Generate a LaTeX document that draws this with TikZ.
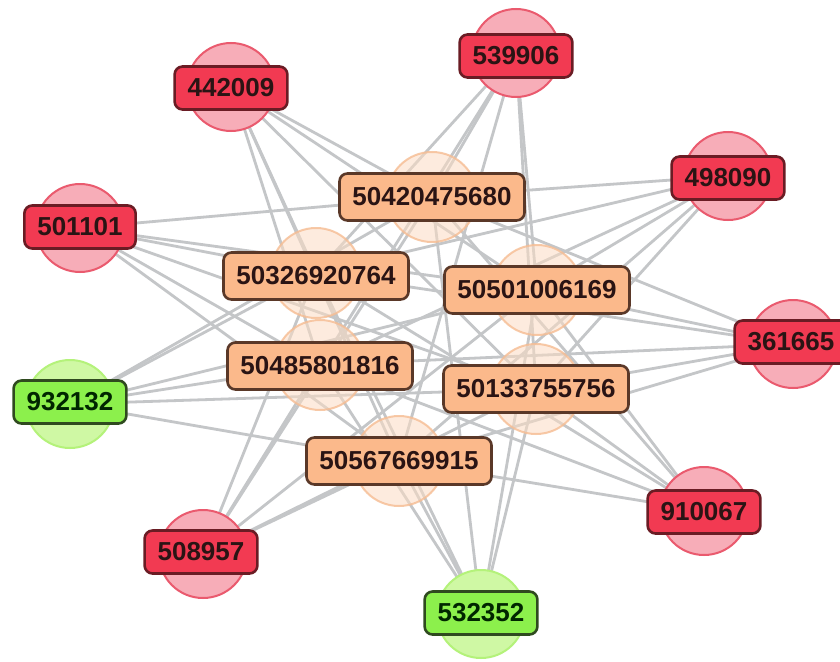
\documentclass[tikz,border=0pt]{standalone}
\usepackage{fontspec}
\setmainfont{Liberation Sans}
\definecolor{edgegray}{HTML}{C4C6C8}
\definecolor{redfill}{HTML}{F23A52}
\definecolor{redline}{HTML}{6A1C24}
\definecolor{redringfill}{HTML}{F7ADB8}
\definecolor{redringline}{HTML}{EA5A6E}
\definecolor{greenfill}{HTML}{8CF04C}
\definecolor{greenline}{HTML}{2F4A1F}
\definecolor{greenringfill}{HTML}{CFF8A4}
\definecolor{greenringline}{HTML}{B4F27A}
\definecolor{peachfill}{HTML}{FBB98B}
\definecolor{peachline}{HTML}{5A3828}
\definecolor{peachringfill}{HTML}{FCDCC4}
\definecolor{peachringline}{HTML}{F6BC92}
\definecolor{labeltext}{HTML}{2A1414}
\pgfdeclarelayer{bg}
\pgfsetlayers{bg,main}
\tikzset{
  ring/.style={circle, minimum size=88pt, inner sep=0pt, line width=2pt},
  redring/.style={ring, fill=redringfill, draw=redringline},
  greenring/.style={ring, fill=greenringfill, draw=greenringline},
  peachring/.style={ring, minimum size=90pt, fill=peachringfill, draw=peachringline, fill opacity=0.55, draw opacity=0.8},
  tag/.style={rectangle, rounded corners=8pt, line width=2.6pt, inner xsep=13pt, inner ysep=0pt,
    font=\fontsize{26}{26}\selectfont\bfseries, text=labeltext},
  redtag/.style={tag, fill=redfill, draw=redline, minimum height=43pt},
  greentag/.style={tag, fill=greenfill, draw=greenline, minimum height=43pt, text=black!85!green},
  peachtag/.style={tag, fill=peachfill, draw=peachline, minimum height=47pt},
  link/.style={draw=edgegray, line width=2.8pt}
}
\begin{document}
\begin{tikzpicture}[x=1pt,y=-1pt]
\useasboundingbox (0,0) rectangle (840,661);

% hub rings (translucent)
\node[peachring] (r1) at (432,197) {};
\node[peachring] (r2) at (316,273) {};
\node[peachring] (r3) at (537,290) {};
\node[peachring] (r4) at (320,365) {};
\node[peachring] (r5) at (536,389) {};
\node[peachring] (r6) at (399,461) {};

% outer rings
\node[redring]   (s1) at (231,87)  {};
\node[redring]   (s2) at (516,53)  {};
\node[redring]   (s3) at (728,176) {};
\node[redring]   (s4) at (80,228)  {};
\node[redring]   (s5) at (793,344) {};
\node[greenring] (s6) at (70,404)  {};
\node[redring]   (s7) at (704,511) {};
\node[redring]   (s8) at (203,554) {};
\node[greenring] (s9) at (481,614) {};

% white ground, then every outer node linked to every hub
\begin{pgfonlayer}{bg}
\fill[white] (0,0) rectangle (840,661);
\foreach \s in {s1,s2,s3,s4,s5,s6,s7,s8,s9}
  \foreach \r in {r1,r2,r3,r4,r5,r6}
    \draw[link] (\s.center) -- (\r.center);
\end{pgfonlayer}

% hub labels
\node[peachtag] (h1) at (432,197) {50420475680};
\node[peachtag] (h2) at (316,276) {50326920764};
\node[peachtag] (h3) at (537,290) {50501006169};
\node[peachtag] (h4) at (320,366) {50485801816};
\node[peachtag] (h5) at (536,389) {50133755756};
\node[peachtag] (h6) at (399,461) {50567669915};

% outer labels
\node[redtag]   (t1) at (231,88)  {442009};
\node[redtag]   (t2) at (516,56)  {539906};
\node[redtag]   (t3) at (728,178) {498090};
\node[redtag]   (t4) at (80,227)  {501101};
\node[redtag]   (t5) at (791,342) {361665};
\node[greentag] (t6) at (70,402)  {932132};
\node[redtag]   (t7) at (704,512) {910067};
\node[redtag]   (t8) at (201,552) {508957};
\node[greentag] (t9) at (481,613) {532352};
\end{tikzpicture}
\end{document}
